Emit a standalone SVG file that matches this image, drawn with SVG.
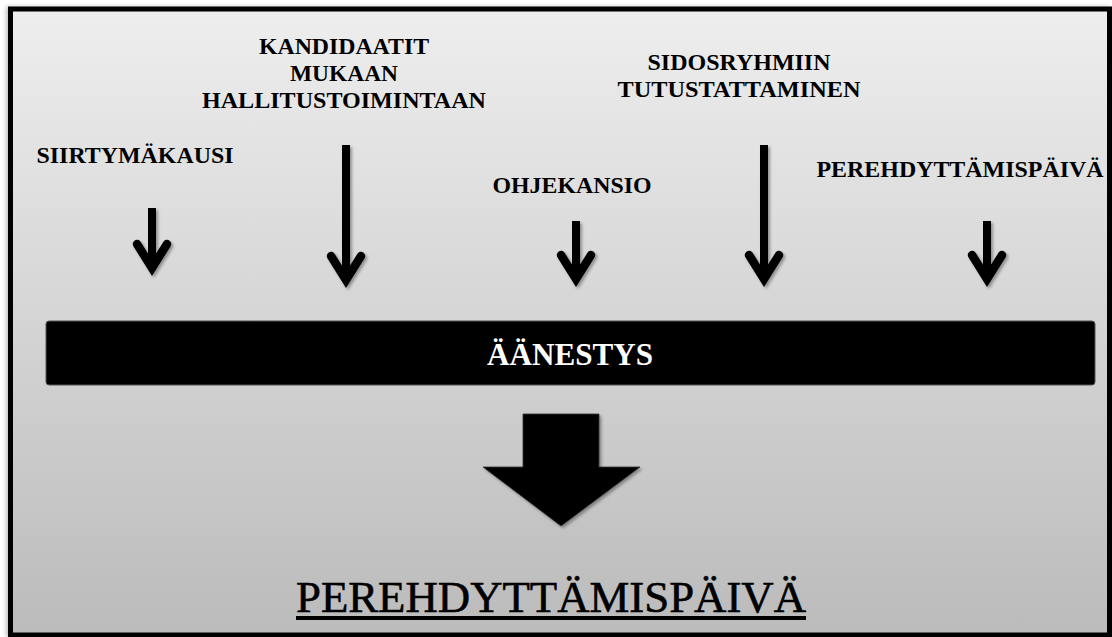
<svg xmlns="http://www.w3.org/2000/svg" width="1112" height="637" viewBox="0 0 1112 637">
  <defs>
    <linearGradient id="bg" x1="0" y1="0" x2="0" y2="1">
      <stop offset="0" stop-color="#eeeeee"/>
      <stop offset="1" stop-color="#bbbbbb"/>
    </linearGradient>
    <filter id="shadow" x="-50%" y="-20%" width="200%" height="140%">
      <feDropShadow dx="2" dy="2" stdDeviation="1.8" flood-color="#000" flood-opacity="0.35"/>
    </filter>
    <filter id="frameShadow" x="-5%" y="-5%" width="110%" height="110%">
      <feDropShadow dx="-2" dy="0" stdDeviation="2" flood-color="#000" flood-opacity="0.25"/>
    </filter>
  </defs>
  <style>
    text { font-family: "Liberation Serif", "Times New Roman", Times, "DejaVu Serif", serif; }
    .lbl { font-weight: bold; font-size: 24px; fill: #000; text-anchor: middle; }
    .bar-txt { font-weight: bold; font-size: 31px; fill: #fff; text-anchor: middle; }
    .title { font-weight: normal; font-size: 45px; fill: #000; text-anchor: middle; stroke: #000; stroke-width: 0.6; }
    .thin { fill: none; stroke: #000; stroke-width: 8; }
    .head { fill: none; stroke: #000; stroke-width: 8.5; stroke-linecap: round; stroke-linejoin: miter; stroke-miterlimit: 10; }
  </style>

  <rect x="0" y="0" width="1112" height="637" fill="#ffffff"/>

  <!-- outer frame with gradient fill -->
  <g id="frame">
    <rect x="10.5" y="9" width="1099" height="626" fill="url(#bg)" stroke="#000" stroke-width="5" filter="url(#frameShadow)"/>
  </g>

  <!-- input labels -->
  <g id="siirtymakausi">
    <text class="lbl" x="135" y="163" textLength="197" lengthAdjust="spacingAndGlyphs">SIIRTYMÄKAUSI</text>
  </g>
  <g id="kandidaatit">
    <text class="lbl" x="344" y="54" textLength="170" lengthAdjust="spacingAndGlyphs">KANDIDAATIT</text>
    <text class="lbl" x="344" y="81" textLength="108" lengthAdjust="spacingAndGlyphs">MUKAAN</text>
    <text class="lbl" x="344" y="108" textLength="284" lengthAdjust="spacingAndGlyphs">HALLITUSTOIMINTAAN</text>
  </g>
  <g id="ohjekansio">
    <text class="lbl" x="572" y="193" textLength="159" lengthAdjust="spacingAndGlyphs">OHJEKANSIO</text>
  </g>
  <g id="sidosryhmiin">
    <text class="lbl" x="739" y="70" textLength="183" lengthAdjust="spacingAndGlyphs">SIDOSRYHMIIN</text>
    <text class="lbl" x="739" y="97" textLength="243" lengthAdjust="spacingAndGlyphs">TUTUSTATTAMINEN</text>
  </g>
  <g id="perehdyttamispaiva-small">
    <text class="lbl" x="960" y="177" textLength="287" lengthAdjust="spacingAndGlyphs">PEREHDYTTÄMISPÄIVÄ</text>
  </g>

  <!-- connectors: downward arrows into the voting bar -->
  <g id="connectors" filter="url(#shadow)">
    <g>
      <path class="thin" d="M152,208 V268"/>
      <path class="head" d="M137,244 L152,268 L167,244"/>
    </g>
    <g>
      <path class="thin" d="M346,145 V280"/>
      <path class="head" d="M331,256 L346,280 L361,256"/>
    </g>
    <g>
      <path class="thin" d="M576,221 V279"/>
      <path class="head" d="M561,255 L576,279 L591,255"/>
    </g>
    <g>
      <path class="thin" d="M764,145 V279"/>
      <path class="head" d="M749,255 L764,279 L779,255"/>
    </g>
    <g>
      <path class="thin" d="M987,221 V279"/>
      <path class="head" d="M972,255 L987,279 L1002,255"/>
    </g>
    <!-- block arrow from the bar to the result -->
    <path d="M523,414 H599 V467 H640 L561,526 L483,467 H523 Z" fill="#000" stroke="#333" stroke-width="0.8"/>
  </g>

  <!-- voting bar -->
  <g id="aanestys">
    <rect x="46" y="321" width="1049" height="64" rx="3" fill="#000" stroke="#555" stroke-width="1"/>
    <text class="bar-txt" x="570" y="365" textLength="166" lengthAdjust="spacingAndGlyphs">ÄÄNESTYS</text>
  </g>

  <!-- result -->
  <g id="perehdyttamispaiva">
    <text class="title" x="551" y="612" textLength="510" lengthAdjust="spacingAndGlyphs">PEREHDYTTÄMISPÄIVÄ</text>
    <rect x="296" y="616" width="510" height="4" fill="#000"/>
  </g>
</svg>
